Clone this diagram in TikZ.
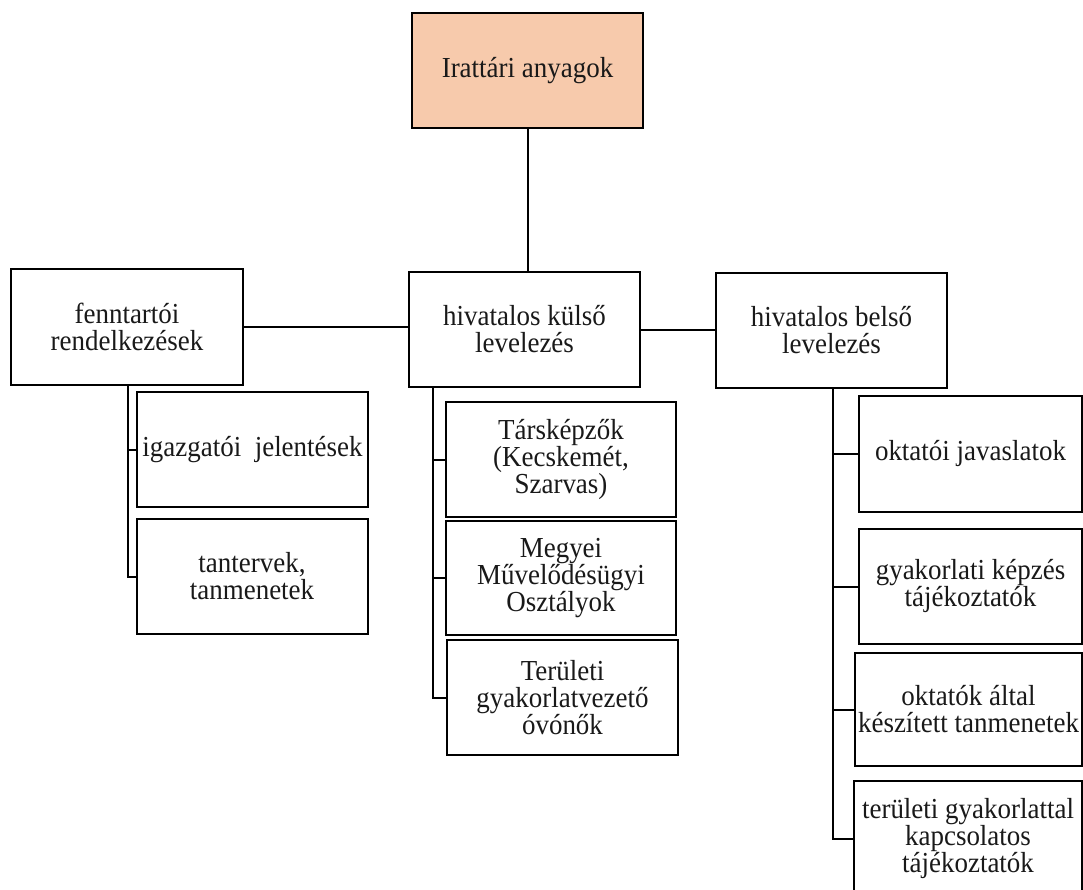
\documentclass[tikz,border=0pt]{standalone}
\usepackage{fontspec}
\setmainfont{Liberation Serif}[FakeStretch=0.93]
\definecolor{irat}{HTML}{F7CAAC}
\begin{document}
\begin{tikzpicture}[x=1pt,y=-1pt,line width=2pt,
    box/.style={draw,align=center,inner sep=1pt,text=black!90,
      minimum width=231pt,minimum height=115pt,
      font=\fontsize{29}{27}\selectfont}]
  \useasboundingbox (0,0) rectangle (1083,890);
  \node[box,fill=irat] (0) at (527.5,71) {Irattári anyagok};
  \node[box,minimum width=232pt] (1) at (127,327) {fenntartói\\rendelkezések};
  \node[box] (2) at (524.5,329.5) {hivatalos külső\\levelezés};
  \node[box] (3) at (831.5,330.5) {hivatalos belső\\levelezés};
  \node[box] (1a) at (252.5,449.5) {igazgatói \ jelentések};
  \node[box] (1b) at (252,576.5) {tantervek,\\tanmenetek};
  \node[box,minimum width=230pt] (2a) at (561,459.5) {Társképzők\\(Kecskemét,\\Szarvas)};
  \node[box,minimum width=230pt,minimum height=114pt] (2b) at (561,578) {Megyei\\Művelődésügyi\\Osztályok};
  \node[box] (2c) at (562.5,697.5) {Területi\\gyakorlatvezető\\óvónők};
  \node[box,minimum width=223pt,minimum height=116pt] (3a) at (970.5,454) {oktatói javaslatok};
  \node[box,minimum width=223pt] (3b) at (970.5,586.5) {gyakorlati képzés\\tájékoztatók};
  \node[box,minimum width=227pt,minimum height=113pt] (3c) at (968.5,709.5) {oktatók által\\készített tanmenetek};
  \node[box,minimum width=228pt] (3d) at (968,838.5) {területi gyakorlattal\\kapcsolatos\\tájékoztatók};
  \coordinate (1t) at (128,385);
  \coordinate (2t) at (433,387);
  \coordinate (3t) at (833,388);
  \begin{scope}[-]
    \draw (0.south) -- (0.south |- 2.north);
    \draw (1.east) -- (1.east -| 2.west);
    \draw (2.east) -- (2.east -| 3.west);
    \draw (1t) |- (1a.west);
    \draw (1t) |- (1b.west);
    \draw (2t) |- (2a.west);
    \draw (2t) |- (2b.west);
    \draw (2t) |- (2c.west);
    \draw (3t) |- (3a.west);
    \draw (3t) |- (3b.west);
    \draw (3t) |- (3c.west);
    \draw (3t) |- (3d.west);
  \end{scope}
\end{tikzpicture}
\end{document}
